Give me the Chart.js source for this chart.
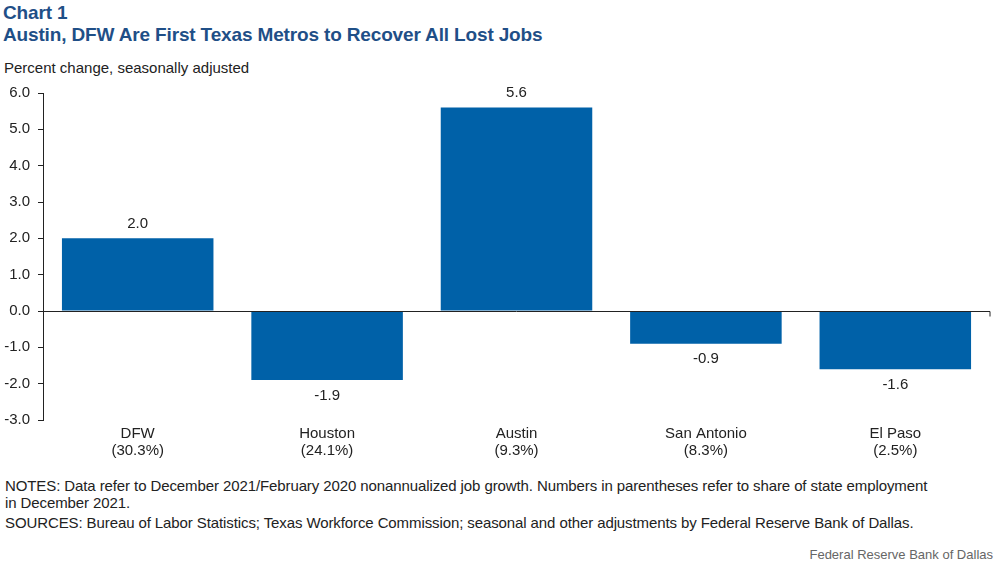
<!DOCTYPE html>
<html>
<head>
<meta charset="utf-8">
<script src="https://cdn.jsdelivr.net/npm/chart.js@4"></script>
<style>
  body { margin: 0; width: 997px; height: 565px; background: #fff; position: relative; overflow: hidden;
         font-family: "Liberation Sans", Arial, sans-serif; }
  .t { position: absolute; left: 3px; color: #1f4f87; font-weight: bold; font-size: 19px; letter-spacing: -0.15px; white-space: nowrap; }
  #unit { position: absolute; left: 4px; top: 59px; font-size: 15px; color: #222; }
  #wrap { position: absolute; left: 0; top: 76px; width: 997px; height: 396px; }
  .note { position: absolute; left: 5px; font-size: 15px; color: #222; line-height: 17px; letter-spacing: -0.1px; white-space: nowrap; }
  #credit { position: absolute; right: 4px; top: 547px; font-size: 13px; color: #666; }
</style>
</head>
<body>
<div class="t" style="top:2px">Chart 1</div>
<div class="t" style="top:24px">Austin, DFW Are First Texas Metros to Recover All Lost Jobs</div>
<div id="unit">Percent change, seasonally adjusted</div>
<div id="wrap"><canvas id="c"></canvas></div>
<div class="note" style="top:477px">NOTES: Data refer to December 2021/February 2020 nonannualized job growth. Numbers in parentheses refer to share of state employment<br>in December 2021.</div>
<div class="note" style="top:514px">SOURCES: Bureau of Labor Statistics; Texas Workforce Commission; seasonal and other adjustments by Federal Reserve Bank of Dallas.</div>
<div id="credit">Federal Reserve Bank of Dallas</div>
<script>
const metros = ['DFW', 'Houston', 'Austin', 'San Antonio', 'El Paso']
const shares = ['(30.3%)', '(24.1%)', '(9.3%)', '(8.3%)', '(2.5%)']
const growth = [2.0, -1.9, 5.6, -0.9, -1.6]

const yMin = -3
const yMax = 6

// value labels above positive bars, below negative ones
const valueLabels = {
    id: 'valueLabels',
    afterDatasetsDraw(chart) {
        const ctx = chart.ctx
        const meta = chart.getDatasetMeta(0)
        ctx.save()
        ctx.font = '15px "Liberation Sans", Arial, sans-serif'
        ctx.fillStyle = '#222'
        ctx.textAlign = 'center'
        meta.data.forEach(function (bar, i) {
            const v = growth[i]
            if (v >= 0) {
                ctx.textBaseline = 'bottom'
                ctx.fillText(v.toFixed(1), bar.x, bar.y - 7)
            } else {
                ctx.textBaseline = 'top'
                ctx.fillText(v.toFixed(1), bar.x, bar.y + 8)
            }
        })
        ctx.restore()
    }
}

// zero line with a small end tick on the right
const zeroLine = {
    id: 'zeroLine',
    afterDatasetsDraw(chart) {
        const ctx = chart.ctx
        const area = chart.chartArea
        const y0 = Math.round(chart.scales.y.getPixelForValue(0)) + 0.5
        ctx.save()
        ctx.strokeStyle = '#222'
        ctx.lineWidth = 1
        ctx.beginPath()
        ctx.moveTo(area.left, y0)
        ctx.lineTo(area.right, y0)
        ctx.lineTo(area.right, y0 + 5)
        ctx.stroke()
        ctx.restore()
    }
}

new Chart(document.getElementById('c'), {
    type: 'bar',
    data: {
        labels: metros.map((m, i) => [m, shares[i]]),
        datasets: [{
            data: growth,
            backgroundColor: '#0061a8',
            barPercentage: 0.8,
            categoryPercentage: 1.0
        }]
    },
    options: {
        responsive: true,
        maintainAspectRatio: false,
        animation: false,
        layout: { padding: { top: 12, right: 7, left: 0, bottom: 0 } },
        plugins: { legend: { display: false }, tooltip: { enabled: false } },
        scales: {
            x: {
                grid: { display: false },
                border: { display: false },
                ticks: {
                    color: '#222',
                    padding: -3,
                    font: { family: '"Liberation Sans", Arial, sans-serif', size: 15, lineHeight: 1.13 }
                },
                afterFit(scale) { scale.height = 52 }
            },
            y: {
                min: yMin,
                max: yMax,
                ticks: {
                    stepSize: 1,
                    color: '#222',
                    padding: 8,
                    font: { family: '"Liberation Sans", Arial, sans-serif', size: 15 },
                    callback: v => v.toFixed(1)
                },
                grid: { drawOnChartArea: false, drawTicks: true, tickLength: 5, color: '#222' },
                border: { display: true, color: '#222' },
                afterFit(scale) { scale.width = 43 }
            }
        }
    },
    plugins: [valueLabels, zeroLine]
})
</script>
</body>
</html>
